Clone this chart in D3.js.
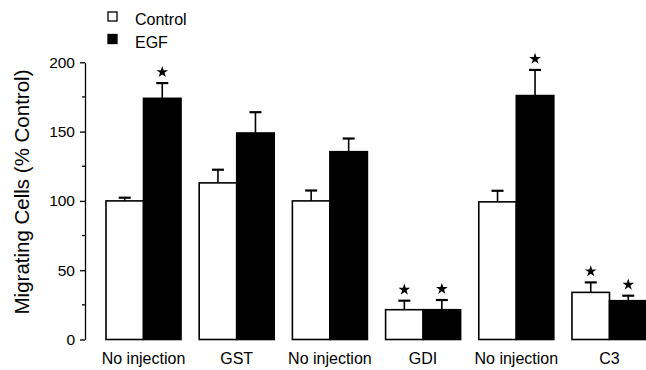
<!DOCTYPE html>
<html>
<meta charset="utf-8">
<style>
body { margin: 0; background: #fff; }
svg { display: block; }
text { font-family: "Liberation Sans", Arial, sans-serif; fill: #000; }
.axis path, .axis line { stroke: #000; stroke-width: 1.3; }
</style>
<body>
<svg width="646" height="370"></svg>
<script src="https://d3js.org/d3.v7.min.js"></script>
<script>

// values (% of control)
var groups = ["No injection", "GST", "No injection ", "GDI", "No injection  ", "C3"];
var series = ["Control", "EGF"];
var controlMean = [100, 113, 100, 21.5, 99.3, 34];
var controlErr  = [2.3, 9.5, 7.5, 6.5, 8, 7.2];
var egfMean     = [174, 149, 135.5, 21.5, 176, 28];
var egfErr      = [11, 15, 9.5, 7, 18.5, 3.6];
var controlStar = [false, false, false, true, false, true];
var egfStar     = [true, false, false, true, true, true];
var yTicks = [0, 50, 100, 150, 200];
var yMinor = [25, 75, 125, 175];

var svg = d3.select("svg");

var x = d3.scaleBand()
    .domain(groups)
    .range([106, 647])
    .paddingInner(0.195)
    .paddingOuter(0);

var xs = d3.scaleBand()
    .domain(series)
    .range([0, x.bandwidth()]);

var y = d3.scaleLinear()
    .domain([0, 200])
    .range([339.5, 62.3]);

var fill = d3.scaleOrdinal().domain(series).range(["#fff", "#000"]);

var data = [];
groups.forEach(function(g, i) {
  data.push({group: g, key: "Control", v: controlMean[i], e: controlErr[i], star: controlStar[i]});
  data.push({group: g, key: "EGF", v: egfMean[i], e: egfErr[i], star: egfStar[i]});
});

// y axis
var axis = svg.append("g")
    .attr("class", "axis")
    .attr("transform", "translate(85,0)")
    .call(d3.axisLeft(y).tickValues(yTicks).tickSize(5).tickSizeOuter(0).tickPadding(5));
axis.selectAll("text").style("font-size", "15.5px");

svg.append("g")
    .attr("class", "axis")
    .attr("transform", "translate(85,0)")
    .selectAll("line")
    .data(yMinor)
    .enter().append("line")
      .attr("x1", -3)
      .attr("x2", 0)
      .attr("y1", function(d) { return y(d); })
      .attr("y2", function(d) { return y(d); });

svg.append("text")
    .attr("transform", "translate(29,192) rotate(-90)")
    .attr("text-anchor", "middle")
    .style("font-size", "20.5px")
    .text("Migrating Cells (% Control)");

// error bars (drawn first so the bar outline sits over them)
var err = svg.append("g")
    .attr("stroke", "#000")
    .attr("stroke-width", 1.6);

err.selectAll(".stem")
  .data(data)
  .enter().append("line")
    .attr("x1", function(d) { return x(d.group) + xs(d.key) + xs.bandwidth() / 2; })
    .attr("x2", function(d) { return x(d.group) + xs(d.key) + xs.bandwidth() / 2; })
    .attr("y1", function(d) { return y(d.v); })
    .attr("y2", function(d) { return y(d.v + d.e); })
    .attr("stroke", function(d) { return "#000"; });

err.selectAll(".cap")
  .data(data)
  .enter().append("line")
    .attr("x1", function(d) { return x(d.group) + xs(d.key) + xs.bandwidth() / 2 - 6; })
    .attr("x2", function(d) { return x(d.group) + xs(d.key) + xs.bandwidth() / 2 + 6; })
    .attr("y1", function(d) { return y(d.v + d.e); })
    .attr("y2", function(d) { return y(d.v + d.e); })
    .attr("stroke-width", 2.2);

// bars
svg.append("g")
  .selectAll("rect")
  .data(data)
  .enter().append("rect")
    .attr("x", function(d) { return x(d.group) + xs(d.key); })
    .attr("y", function(d) { return y(d.v); })
    .attr("width", xs.bandwidth())
    .attr("height", function(d) { return y(0) - y(d.v); })
    .attr("fill", function(d) { return fill(d.key); })
    .attr("stroke", "#000")
    .attr("stroke-width", 1.6);

// significance stars
svg.append("g")
  .selectAll("path")
  .data(data.filter(function(d) { return d.star; }))
  .enter().append("path")
    .attr("d", d3.symbol(d3.symbolStar, 42))
    .attr("transform", function(d) {
      return "translate(" + (x(d.group) + xs(d.key) + xs.bandwidth() / 2) + "," + (y(d.v + d.e) - 11) + ")";
    })
    .attr("fill", "#000");

// group labels
svg.append("g")
  .selectAll("text")
  .data(groups)
  .enter().append("text")
    .attr("x", function(d) { return x(d) + x.bandwidth() / 2; })
    .attr("y", 364)
    .attr("text-anchor", "middle")
    .style("font-size", "16px")
    .text(function(d) { return d.trim(); });

// legend
var legend = svg.append("g")
  .selectAll("g")
  .data(series)
  .enter().append("g")
    .attr("transform", function(d, i) { return "translate(108," + (12 + i * 22.5) + ")"; });

legend.append("rect")
    .attr("width", 9)
    .attr("height", 9)
    .attr("fill", function(d) { return fill(d); })
    .attr("stroke", "#000")
    .attr("stroke-width", 1.3);

legend.append("text")
    .attr("x", 27)
    .attr("y", 13)
    .style("font-size", "16px")
    .text(function(d) { return d; });

</script>
</body>
</html>
